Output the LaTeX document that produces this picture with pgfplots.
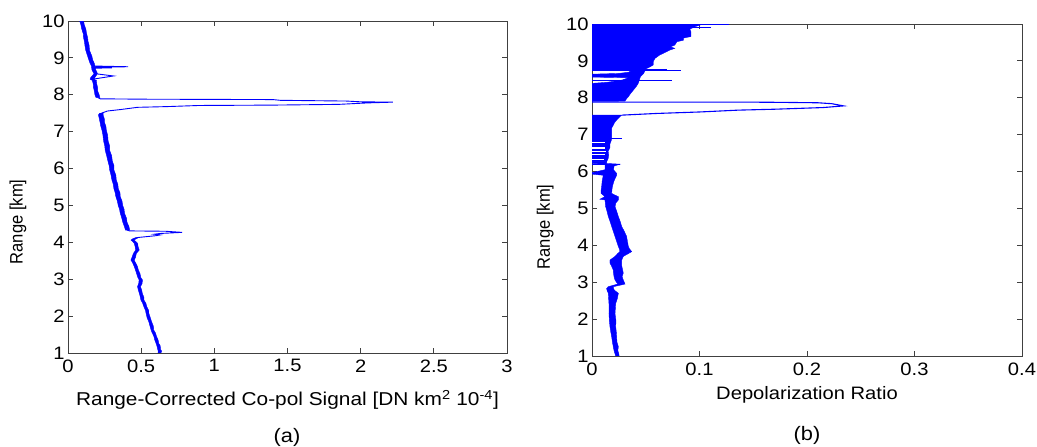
\documentclass[border=0pt]{standalone}
\usepackage{pgfplots}
\pgfplotsset{compat=1.18}
\usepackage{fontspec}
\setmainfont{Liberation Sans}[FakeStretch=1.12]
\newfontfamily\ylabfont{Liberation Sans}[FakeStretch=0.92]
\newcommand\ylab{{\ylabfont\fontsize{18}{21}\selectfont Range [km]}}
\definecolor{mblue}{RGB}{0,0,255}
\pgfplotsset{mstyle/.style={
  scale only axis, ymin=1, ymax=10, ytick={1,2,3,4,5,6,7,8,9,10},
  axis line style={black!75,line width=0.8pt},
  every tick/.style={black!75,line width=0.8pt},
  major tick length=5pt, tick align=inside,
  /pgf/number format/assume math mode=true,
  tick label style={font=\fontsize{18}{21}\selectfont},
  xticklabel style={yshift=-3pt},
  xlabel style={font=\fontsize{18}{21}\selectfont},
}}
\begin{document}
\begin{tikzpicture}
\path[use as bounding box] (0pt,0pt) rectangle (1037pt,447pt);
% ---------------- (a)
\begin{axis}[mstyle, at={(68pt,94pt)}, anchor=south west, width=439pt, height=332pt,
  xmin=0, xmax=3, xtick={0,0.5,1,1.5,2,2.5,3},
  xlabel={Range-Corrected Co-pol Signal [DN km\textsuperscript{2} 10\textsuperscript{-4}]},
  xlabel style={at={(axis description cs:0.5,-0.141)}, anchor=center, font=\fontsize{18.6}{21}\selectfont},
  ylabel={\ylab},
  ylabel style={at={(axis description cs:-0.114,0.395)}, anchor=center}]
% noise band 1.0-4.13
\addplot[draw=mblue, fill=mblue, line width=0.4pt, mark=none] coordinates {
(0.635,1.00)(0.640,1.05)(0.632,1.10)(0.630,1.20)(0.620,1.26)(0.616,1.35)(0.605,1.45)(0.597,1.55)(0.586,1.62)(0.584,1.72)(0.571,1.85)(0.563,1.95)(0.552,2.08)(0.552,2.15)(0.539,2.25)(0.532,2.35)(0.518,2.44)(0.518,2.52)(0.509,2.60)(0.504,2.70)(0.495,2.80)(0.506,2.88)(0.509,2.98)(0.497,3.05)(0.492,3.15)(0.481,3.25)(0.474,3.35)(0.461,3.45)(0.452,3.52)(0.462,3.60)(0.467,3.70)(0.487,3.79)(0.479,3.88)(0.476,3.97)(0.461,4.03)(0.452,4.06)(0.466,4.10)(0.484,4.13)
(0.466,4.13)(0.444,4.10)(0.430,4.06)(0.441,4.03)(0.453,3.97)(0.459,3.88)(0.462,3.79)(0.447,3.70)(0.438,3.60)(0.430,3.52)(0.441,3.45)(0.452,3.35)(0.461,3.25)(0.469,3.15)(0.477,3.05)(0.486,2.98)(0.483,2.88)(0.475,2.80)(0.481,2.70)(0.489,2.60)(0.494,2.52)(0.498,2.44)(0.510,2.35)(0.519,2.25)(0.530,2.15)(0.533,2.08)(0.541,1.95)(0.552,1.85)(0.561,1.72)(0.568,1.62)(0.575,1.55)(0.587,1.45)(0.593,1.35)(0.602,1.26)(0.607,1.20)(0.613,1.10)(0.617,1.05)(0.615,1.00)
} -- cycle;
% noise band 4.33-7.50
\addplot[draw=mblue, fill=mblue, line width=0.4pt, mark=none] coordinates {
(0.421,4.33)(0.417,4.42)(0.403,4.55)(0.400,4.65)(0.386,4.79)(0.383,4.90)(0.374,5.00)(0.369,5.12)(0.357,5.24)(0.355,5.35)(0.344,5.45)(0.340,5.58)(0.330,5.69)(0.327,5.82)(0.314,5.96)(0.314,6.08)(0.303,6.20)(0.298,6.35)(0.284,6.50)(0.284,6.62)(0.274,6.75)(0.271,6.90)(0.262,7.04)(0.259,7.15)(0.249,7.25)(0.248,7.35)(0.240,7.45)(0.240,7.50)
(0.216,7.50)(0.208,7.45)(0.214,7.35)(0.219,7.25)(0.224,7.15)(0.232,7.04)(0.239,6.90)(0.243,6.75)(0.251,6.62)(0.254,6.50)(0.264,6.35)(0.273,6.20)(0.281,6.08)(0.285,5.96)(0.294,5.82)(0.300,5.69)(0.309,5.58)(0.314,5.45)(0.322,5.35)(0.327,5.24)(0.337,5.12)(0.343,5.00)(0.352,4.90)(0.357,4.79)(0.368,4.65)(0.374,4.55)(0.386,4.42)(0.393,4.33)
} -- cycle;
% noise band 7.92-10
\addplot[draw=mblue, fill=mblue, line width=0.4pt, mark=none] coordinates {
(0.218,7.92)(0.213,8.00)(0.203,8.10)(0.202,8.20)(0.196,8.30)(0.194,8.39)(0.177,8.42)(0.184,8.47)(0.201,8.57)(0.197,8.62)(0.190,8.67)(0.188,8.72)(0.184,8.78)(0.180,8.85)(0.169,8.94)(0.163,9.05)(0.146,9.21)(0.145,9.33)(0.137,9.45)(0.134,9.55)(0.127,9.66)(0.122,9.78)(0.111,9.90)(0.106,10.0)
(0.080,10.0)(0.088,9.90)(0.094,9.78)(0.104,9.66)(0.106,9.55)(0.112,9.45)(0.116,9.33)(0.121,9.21)(0.134,9.05)(0.143,8.94)(0.151,8.85)(0.160,8.78)(0.162,8.72)(0.164,8.67)(0.171,8.62)(0.178,8.57)(0.156,8.47)(0.151,8.42)(0.166,8.39)(0.172,8.30)(0.174,8.20)(0.180,8.10)(0.184,8.00)(0.192,7.92)
} -- cycle;
% profile line with spikes
\addplot[mblue, line width=0.9pt, mark=none] coordinates {
(0.625,1.00)(0.628,1.05)(0.622,1.10)(0.617,1.20)(0.611,1.26)(0.604,1.35)(0.596,1.45)(0.585,1.55)(0.577,1.62)(0.572,1.72)(0.562,1.85)(0.551,1.95)(0.543,2.08)(0.540,2.15)(0.530,2.25)(0.520,2.35)(0.509,2.44)(0.506,2.52)(0.500,2.60)(0.492,2.70)(0.486,2.80)(0.494,2.88)(0.498,2.98)(0.488,3.05)(0.480,3.15)(0.472,3.25)(0.462,3.35)(0.452,3.45)(0.441,3.52)(0.450,3.60)(0.458,3.70)(0.475,3.79)(0.470,3.88)(0.464,3.97)(0.452,4.03)(0.441,4.06)(0.455,4.10)(0.475,4.13)
(0.60,4.18)(0.63,4.20)(0.59,4.22)(0.63,4.24)(0.78,4.27)(0.668,4.30)(0.42,4.31)(0.407,4.33)
(0.400,4.42)(0.390,4.55)(0.383,4.65)(0.373,4.79)(0.366,4.90)(0.360,5.00)(0.352,5.12)(0.343,5.24)(0.337,5.35)(0.330,5.45)(0.323,5.58)(0.316,5.69)(0.309,5.82)(0.300,5.96)(0.296,6.08)(0.290,6.20)(0.280,6.35)(0.270,6.50)(0.266,6.62)(0.260,6.75)(0.253,6.90)(0.248,7.04)(0.241,7.15)(0.235,7.25)(0.230,7.35)(0.225,7.45)(0.228,7.50)
(0.27,7.56)(0.36,7.60)(0.475,7.66)(0.68,7.68)(0.895,7.71)(1.40,7.72)(1.85,7.74)(2.0,7.77)(2.05,7.78)(2.22,7.80)(2.0,7.81)(1.9,7.83)(1.45,7.85)(1.40,7.87)(0.543,7.88)(0.22,7.89)
(0.205,7.92)(0.198,8.00)(0.192,8.10)(0.188,8.20)(0.185,8.30)(0.180,8.39)(0.165,8.42)(0.311,8.51)(0.19,8.57)(0.183,8.62)(0.178,8.67)(0.174,8.72)(0.30,8.73)(0.18,8.745)(0.41,8.76)(0.172,8.78)(0.165,8.85)(0.157,8.94)(0.148,9.05)(0.134,9.21)(0.130,9.33)(0.125,9.45)(0.120,9.55)(0.116,9.66)(0.108,9.78)(0.100,9.90)(0.093,10.0)
};
\end{axis}
% ---------------- (b)
\begin{axis}[mstyle, at={(592pt,91pt)}, anchor=south west, width=430pt, height=332pt,
  xmin=0, xmax=0.4, xtick={0,0.1,0.2,0.3,0.4},
  xlabel={Depolarization Ratio},
  xlabel style={at={(axis description cs:0.5,-0.1175)}, anchor=center},
  ylabel={\ylab},
  ylabel style={at={(axis description cs:-0.109,0.389)}, anchor=center}]
% upper filled region
\addplot[draw=mblue, fill=mblue, line width=0.4pt, mark=none] coordinates {
(0.0307,7.91)(0.032,7.97)(0.0338,8.03)(0.036,8.12)(0.0385,8.21)(0.041,8.30)(0.043,8.39)(0.044,8.48)(0.045,8.57)(0.048,8.66)(0.049,8.72)(0.050,8.78)(0.054,8.84)(0.057,8.89)(0.057,8.98)(0.0586,9.07)(0.063,9.16)(0.0695,9.25)(0.072,9.29)(0.077,9.34)(0.073,9.38)(0.077,9.43)(0.079,9.52)(0.085,9.56)(0.085,9.62)(0.092,9.66)(0.092,9.79)(0.091,9.86)(0.096,9.93)(0.1005,9.97)(0.100,10.0)
(0,10.0)(0,8.76)(0.018,8.755)(0.034,8.74)(0.036,8.70)(0.025,8.66)(0,8.64)(0,8.56)(0.034,8.545)(0.028,8.48)(0.014,8.42)(0,8.39)(0,7.91)
} -- cycle;
\addplot[xcomb, draw=mblue, line width=0.9pt, mark=none] coordinates {
(0.127,9.985)(0.111,9.895)(0.0695,8.78)(0.083,8.73)(0.074,8.47)(0.0276,6.91)(0.026,6.20)
};
% peak
\addplot[mblue, line width=1.1pt, mark=none] coordinates {
(0,7.885)(0.161,7.88)(0.21,7.865)(0.223,7.84)(0.234,7.78)(0.215,7.735)(0.17,7.69)(0.136,7.665)(0.10,7.615)(0.06,7.575)(0.028,7.53)
};
% lower filled region
\addplot[draw=mblue, fill=mblue, line width=0.4pt, mark=none] coordinates {
(0.0136,6.27)(0.015,6.35)(0.0155,6.45)(0.015,6.55)(0.0167,6.65)(0.0167,6.75)(0.018,6.85)(0.0183,6.95)(0.0183,7.05)(0.0183,7.18)(0.0198,7.26)(0.021,7.33)(0.023,7.40)(0.025,7.46)(0.0276,7.53)
(0,7.53)(0,6.27)
} -- cycle;
\addplot[xcomb, draw=white, line width=1.2pt, mark=none] coordinates {
(0.012,6.78)(0.012,6.64)(0.013,6.55)(0.012,6.46)(0.011,6.32)
};
% band
\addplot[draw=mblue, fill=mblue, line width=0.4pt, mark=none] coordinates {
(0.0252,1.00)(0.0250,1.05)(0.0240,1.15)(0.0245,1.25)(0.0232,1.38)(0.0229,1.52)(0.0226,1.65)(0.0220,1.80)(0.0223,1.95)(0.0214,2.15)(0.0217,2.28)(0.0220,2.42)(0.0235,2.55)(0.0245,2.70)(0.0210,2.78)(0.0198,2.83)(0.0200,2.88)(0.0307,2.95)(0.0291,3.06)(0.0280,3.15)(0.0291,3.25)(0.0285,3.33)(0.0276,3.45)(0.0276,3.52)(0.0276,3.60)(0.0291,3.70)(0.0340,3.78)(0.0369,3.83)(0.0350,3.90)(0.0338,3.97)(0.0330,4.10)(0.0322,4.24)(0.0300,4.38)(0.0276,4.51)(0.0262,4.65)(0.0245,4.78)(0.0230,4.92)(0.0214,5.05)(0.0222,5.15)(0.0245,5.23)(0.0245,5.32)(0.0200,5.38)(0.0183,5.41)(0.0185,5.50)(0.0190,5.60)(0.0205,5.75)(0.0229,5.90)(0.0229,5.95)(0.0200,6.05)(0.0205,6.15)(0.0260,6.20)(0.0136,6.22)(0.0136,6.27)
(0,6.27)(0,6.22)(0.0121,6.20)(0.0121,6.05)(0,5.97)(0,5.93)(0.0105,5.90)(0.0095,5.75)(0.0090,5.60)(0.0085,5.50)(0.0084,5.41)(0.0121,5.32)(0.0074,5.25)(0.0121,5.23)(0.0127,5.05)(0.0140,4.92)(0.0152,4.78)(0.0168,4.65)(0.0183,4.51)(0.0198,4.38)(0.0214,4.24)(0.0230,4.10)(0.0245,3.97)(0.0255,3.90)(0.0260,3.83)(0.0240,3.78)(0.0214,3.70)(0.0167,3.60)(0.0167,3.52)(0.0180,3.45)(0.0198,3.33)(0.0200,3.25)(0.0205,3.15)(0.0214,3.06)(0.0240,2.95)(0.0152,2.88)(0.0136,2.83)(0.0140,2.78)(0.0152,2.70)(0.0155,2.55)(0.0158,2.42)(0.0160,2.28)(0.0158,2.15)(0.0162,1.95)(0.0167,1.80)(0.0175,1.65)(0.0183,1.52)(0.0190,1.38)(0.0198,1.25)(0.0205,1.15)(0.0215,1.05)(0.0220,1.00)
} -- cycle;
\end{axis}
\node[font=\fontsize{19.5}{22}\selectfont] at (287pt,10pt) {(a)};
\node[font=\fontsize{19.5}{22}\selectfont] at (807pt,12pt) {(b)};
\end{tikzpicture}
\end{document}
